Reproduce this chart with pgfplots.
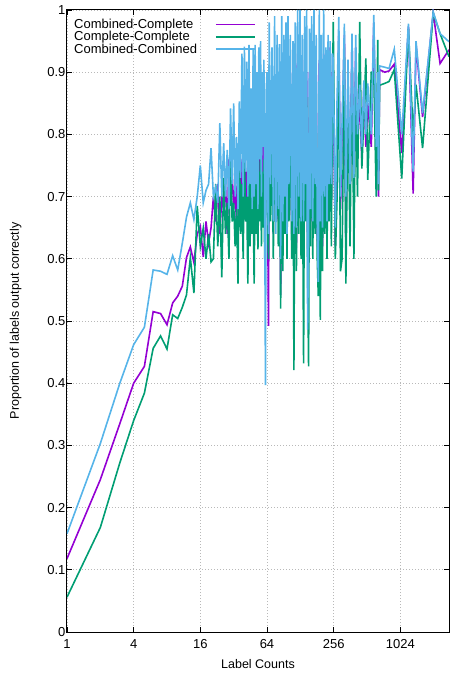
\documentclass[border=0pt]{standalone}
\usepackage{fontspec}
\setmainfont{Liberation Sans}
\usepackage{pgfplots}
\usepackage{pgfplotstable}
\pgfplotsset{compat=1.18}
\definecolor{cpurple}{RGB}{148,0,211}
\definecolor{cgreen}{RGB}{0,158,115}
\definecolor{cblue}{RGB}{86,180,233}

% n = label count, p = Combined-Complete, g = Complete-Complete, b = Combined-Combined
\pgfplotstableread{
n p g b
1 .118 .056 .158
2 .245 .168 .303
3 .335 .272 .400
4 .400 .340 .462
5 .427 .384 .490
6 .515 .456 .582
7 .512 .476 .580
8 .494 .455 .575
9 .529 .510 .605
10 .540 .504 .582
11 .556 .522 .625
12 .602 .542 .667
13 .619 .602 .690
14 .594 .545 .663
15 .640 .685 .700
16 .652 .620 .750
17 .603 .649 .690
18 .660 .600 .710
19 .625 .640 .720
20 .650 .595 .778
21 .700 .600 .700
22 .660 .720 .715
23 .720 .620 .690
24 .640 .700 .818
25 .700 .570 .700
26 .680 .730 .786
27 .720 .640 .700
28 .640 .690 .775
29 .760 .600 .680
30 .700 .780 .842
31 .740 .660 .720
32 .680 .690 .850
33 .720 .620 .700
34 .650 .680 .796
35 .780 .560 .680
36 .700 .800 .853
37 .760 .640 .730
38 .670 .720 .930
39 .800 .600 .700
40 .720 .780 .941
41 .740 .660 .740
42 .660 .700 .917
43 .780 .560 .700
44 .690 .760 .944
45 .800 .620 .720
46 .700 .740 .874
47 .760 .640 .680
48 .660 .700 .938
49 .800 .560 .700
50 .690 .760 .944
51 .760 .640 .720
52 .650 .720 .900
53 .780 .615 .680
54 .700 .740 .940
55 .820 .660 .760
56 .680 .800 .950
57 .760 .620 .700
58 .700 .740 .900
59 .800 .650 .780
60 .660 .760 .920
61 .780 .600 .700
62 .720 .700 .397
63 .780 .800 .870
64 .780 .760 .900
65 .660 .640 .700
66 .492 .600 .640
67 .820 .780 .980
69 .700 .660 .720
71 .860 .820 .940
73 .640 .600 .660
75 .840 .800 .990
77 .700 .680 .640
79 .880 .840 .960
81 .660 .620 .680
83 .850 .800 .945
85 .542 .520 .600
87 .870 .840 .990
89 .640 .580 .660
91 .890 .850 .960
93 .680 .640 .700
95 .910 .870 .980
97 .620 .600 .640
99 .880 .840 .990
101 .700 .660 .720
104 .900 .860 .960
107 .640 .600 .660
110 .860 .830 .950
112 .620 .421 .640
115 .920 .880 .980
118 .617 .580 .650
121 .930 .890 1.000
124 .680 .640 .700
127 .910 .870 1.000
130 .640 .600 .660
133 .880 .850 .960
137 .640 .432 .660
140 .920 .880 .990
143 .700 .660 .720
146 .900 .860 1.000
149 .620 .580 .486
152 .600 .427 .640
155 .900 .860 .970
158 .660 .620 .680
162 .910 .880 .990
166 .640 .600 .660
170 .930 .900 1.000
174 .700 .640 .720
178 .900 .870 .960
182 .640 .600 .660
186 .600 .540 .563
190 .920 .880 1.000
194 .680 .502 .660
198 .890 .850 .960
203 .620 .580 .650
208 .930 .900 1.000
213 .680 .640 .700
218 .880 .840 .940
223 .640 .600 .660
228 .910 .870 .960
233 .700 .660 .720
238 .940 .900 .950
244 .680 .620 .720
250 .900 .870 .930
254 .880 .981 .920
265 .620 .600 .650
275 .800 .700 .860
285 .960 .930 .989
295 .680 .580 .700
305 .800 .600 .820
320 .960 .940 .978
330 .620 .560 .700
345 .880 .860 .920
360 .700 .620 .720
375 .960 .936 .962
390 .700 .600 .730
405 .940 .900 .960
420 .780 .700 .800
440 .860 .981 .880
460 .760 .745 .780
480 .880 .830 .887
500 .780 .922 .800
520 .850 .727 .882
560 .780 .900 .800
590 .980 .900 .992
620 .760 .700 .780
640 .880 .952 .900
650 .700 .710 .720
666 .904 .879 .910
740 .900 .882 .908
810 .902 .885 .906
903 .913 .904 .937
1055 .770 .729 .800
1212 .973 .970 .978
1337 .705 .800 .740
1420 .944 .880 .950
1627 .828 .778 .834
2030 .995 .995 .997
2340 .914 .962 .962
2818 .936 .925 .949
}\datatable

\begin{document}
\begin{tikzpicture}
\begin{axis}[
  scale only axis, width=382pt, height=622pt,
  xmode=log, log basis x=2, xmin=1, xmax=2818,
  ymin=0, ymax=1,
  xtick={1,4,16,64,256,1024}, xticklabels={1,4,16,64,256,1024},
  ytick={0,0.1,0.2,0.3,0.4,0.5,0.6,0.7,0.8,0.9,1},
  yticklabels={0,0.1,0.2,0.3,0.4,0.5,0.6,0.7,0.8,0.9,1},
  minor tick num=0,
  grid=major,
  major grid style={gray!55, line width=0.7pt, dash pattern=on 1pt off 2pt},
  tick align=inside, major tick length=5pt,
  tick style={black, line width=0.8pt},
  axis line style={black, line width=1pt},
  tick label style={font=\fontsize{13}{13}\selectfont},
  xticklabel style={yshift=-4pt},
  yticklabel style={xshift=2pt},
  label style={font=\fontsize{12.5}{13}\selectfont},
  xlabel={Label Counts}, ylabel={Proportion of labels output correctly},
  xlabel shift=4pt, ylabel shift=19pt,
  legend style={at={(0,1)}, anchor=north west, draw=none, fill=none,
    font=\fontsize{13}{13}\selectfont, row sep=-2.6pt, xshift=2pt, yshift=-5pt},
  legend cell align=left,
  legend plot pos=right,
  legend image code/.code={\path (0pt,0pt); \draw[#1] (16pt,0pt) -- (55pt,0pt);},
]
\addplot[cpurple, line width=1.6pt] table[x=n,y=p]{\datatable};
\addlegendentry{Combined-Complete}
\addplot[cgreen, line width=1.6pt] table[x=n,y=g]{\datatable};
\addlegendentry{Complete-Complete}
\addplot[cblue, line width=1.6pt] table[x=n,y=b]{\datatable};
\addlegendentry{Combined-Combined}
\end{axis}
\pgfresetboundingbox
\path (-67pt,-43pt) rectangle (383pt,632pt);
\end{tikzpicture}
\end{document}
